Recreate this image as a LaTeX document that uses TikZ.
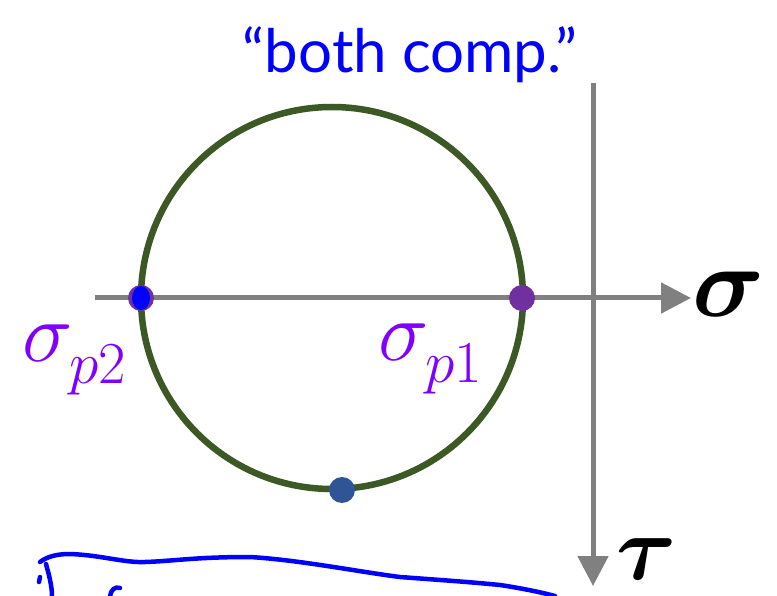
\RequirePackage{fix-cm}
\documentclass[tikz,border=0pt]{standalone}
\usepackage{amsmath}
\usepackage{fontspec}
\newfontfamily\handfont{Lato}
\usetikzlibrary{arrows.meta}
\definecolor{circlegreen}{RGB}{60, 88, 36}
\definecolor{axisgray}{RGB}{128, 128, 128}
\definecolor{labelpurple}{RGB}{128, 0, 255}
\definecolor{dotpurple}{RGB}{112, 48, 160}
\definecolor{dotblue}{RGB}{47, 85, 151}
\definecolor{inkblue}{RGB}{0, 0, 255}
\begin{document}
\begin{tikzpicture}[x=1pt, y=-1pt,
			axis/.style={draw=axisgray, line width=5pt, -{Triangle[length=30pt, width=30pt]}},
			dot/.style={circle, fill=#1, minimum size=26pt, inner sep=0pt},
			plabel/.style={labelpurple, font=\fontsize{85}{85}\selectfont},
			axlabel/.style={inner sep=0pt, font=\fontsize{100}{100}\selectfont},
			ink/.style={inkblue, line width=4.5pt, line cap=round, line join=round}]
			%Bildbereich
			\useasboundingbox (0,0) rectangle (777,596);
			% Achsen
			\coordinate (xstart) at (95,298);
			\coordinate (xend) at (691,298);
			\coordinate (ystart) at (593,83);
			\coordinate (yend) at (593,586);
			\draw[axis] (xstart) -- (xend);
			\draw[axis] (ystart) -- (yend);
			\node[axlabel, anchor=west] (sig) at (692,294) {$\boldsymbol{\sigma}$};
			\node[axlabel, anchor=north west, font=\fontsize{92}{92}\selectfont] (tau) at (616,538) {$\boldsymbol{\tau}$};
			% Mohrscher Kreis
			\coordinate (C) at (332,298);
			\draw[circlegreen, line width=6.5pt] (C) circle (191);
			% Punkte
			\node[dot=dotpurple] (p1) at (522,298) {};
			\node[dot=dotpurple] (p2) at (141,298) {};
			\node[dot=dotblue] (pt) at (342,490) {};
			\fill[inkblue] (p2.center) ellipse (9 and 12);
			% Beschriftung
			\node[plabel, anchor=base west, inner sep=0pt] (sp2) at (22,361) {$\sigma_{\raisebox{-10pt}{$\scriptstyle p2$}}$};
			\node[plabel, anchor=base west, inner sep=0pt] (sp1) at (378,360) {$\sigma_{\raisebox{-10pt}{$\scriptstyle p1$}}$};
			\node[inkblue, font=\handfont\fontsize{60}{60}\selectfont] (note) at (410,55) {“both comp.”};
			% Handschrift unten
			\draw[ink] (40,562) .. controls (48,556) and (58,554) .. (70,554)
				.. controls (100,555) and (125,563) .. (145,562)
				.. controls (175,561) and (195,557) .. (250,557)
				.. controls (300,560) and (360,572) .. (400,577)
				.. controls (440,580) and (470,582) .. (500,585)
				.. controls (520,588) and (540,592) .. (555,596);
			\draw[ink] (46,564) .. controls (49,575) and (52,586) .. (52,596);
			\draw[ink] (40,577) -- (39,582);
			\draw[ink] (110,596) .. controls (111,590) and (115,586) .. (120,588);
		\end{tikzpicture}
\end{document}
